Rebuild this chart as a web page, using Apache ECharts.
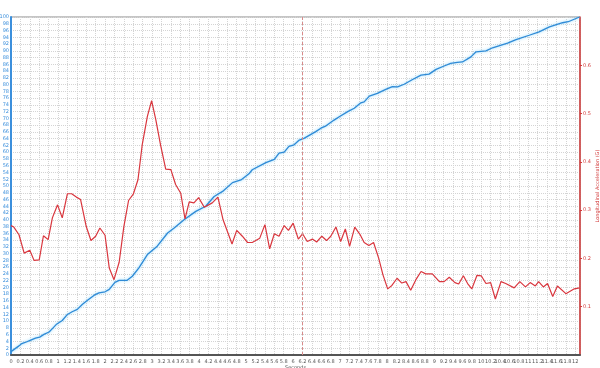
<!DOCTYPE html>
<html><head><meta charset="utf-8">
<script src="https://cdn.jsdelivr.net/npm/echarts@6/dist/echarts.min.js"></script>
<style>html,body{margin:0;padding:0;background:#fff}#c{width:600px;height:368px}</style>
</head><body><div id="c"></div>
<script>
const blueTime = [0,0.17,0.23,0.3,0.42,0.52,0.61,0.70,0.81,0.88,0.96,1.09,1.2,1.3,1.41,1.52,1.62,1.77,1.87,2.0,2.09,2.21,2.3,2.47,2.58,2.72,2.9,3.11,3.33,3.47,3.68,3.93,4.14,4.32,4.5,4.71,4.89,5.06,5.13,5.42,5.6,5.7,5.81,5.91,6.02,6.13,6.23,6.48,6.59,6.7,6.87,6.98,7.16,7.3,7.44,7.51,7.62,7.79,7.97,8.11,8.22,8.36,8.54,8.72,8.89,9.04,9.21,9.35,9.49,9.6,9.78,9.89,10.1,10.24,10.56,10.74,11.02,11.23,11.45,11.73,11.85,12.09];
const blueValues = [1,2.7,3.4,3.7,4.4,5,5.3,6.1,6.8,7.8,9,10.2,12,12.8,13.5,15,16.1,17.7,18.4,18.7,19.4,21.5,22.1,22.1,23.3,25.8,29.7,32.2,36.1,37.6,40,42.5,44,46.9,48.4,51,51.8,53.6,54.8,56.9,57.9,59.7,60,61.7,62.2,63.6,64.1,66.1,67.1,67.8,69.5,70.5,72,73,74.6,74.9,76.6,77.4,78.6,79.4,79.3,80.1,81.5,82.8,83.1,84.5,85.5,86.3,86.6,86.7,88.2,89.7,90,90.9,92.3,93.3,94.6,95.6,97.1,98.3,98.6,100];
const redTime = [0,0.06,0.17,0.28,0.40,0.49,0.60,0.69,0.79,0.88,0.99,1.09,1.2,1.29,1.39,1.48,1.6,1.7,1.8,1.89,2.0,2.09,2.19,2.3,2.4,2.5,2.6,2.7,2.79,2.9,2.99,3.08,3.18,3.29,3.40,3.50,3.61,3.70,3.79,3.89,3.99,4.11,4.28,4.40,4.51,4.70,4.80,4.92,5.03,5.13,5.29,5.40,5.50,5.6,5.70,5.81,5.90,6.0,6.11,6.20,6.30,6.41,6.50,6.61,6.71,6.80,6.91,7.01,7.11,7.2,7.31,7.42,7.51,7.61,7.71,7.82,7.91,8.01,8.10,8.21,8.31,8.40,8.50,8.61,8.72,8.82,8.96,9.11,9.21,9.32,9.44,9.52,9.62,9.71,9.80,9.91,10.0,10.1,10.2,10.3,10.42,10.52,10.70,10.82,10.94,11.04,11.15,11.22,11.32,11.41,11.52,11.62,11.8,11.98,12.09];
const redValues = [0.268,0.265,0.249,0.211,0.217,0.196,0.197,0.247,0.239,0.284,0.311,0.284,0.334,0.334,0.327,0.322,0.266,0.237,0.246,0.263,0.248,0.18,0.156,0.192,0.266,0.32,0.333,0.363,0.435,0.494,0.527,0.487,0.435,0.385,0.384,0.353,0.335,0.282,0.317,0.315,0.326,0.306,0.315,0.327,0.28,0.23,0.258,0.246,0.233,0.233,0.242,0.27,0.22,0.251,0.246,0.268,0.258,0.273,0.24,0.251,0.235,0.24,0.234,0.246,0.237,0.246,0.265,0.235,0.261,0.225,0.265,0.25,0.233,0.227,0.233,0.2,0.166,0.137,0.144,0.159,0.149,0.152,0.134,0.156,0.173,0.168,0.168,0.152,0.152,0.161,0.15,0.147,0.164,0.148,0.137,0.165,0.164,0.148,0.150,0.116,0.152,0.148,0.139,0.152,0.141,0.150,0.143,0.152,0.141,0.148,0.121,0.143,0.127,0.137,0.139];
const markerTime = 6.2;
const xAxisName = 'Seconds';
const rightAxisName = 'Longitudinal Acceleration (G)';

const chart = echarts.init(document.getElementById('c'), null, {renderer:'canvas'});
const gridLine = {show:true, lineStyle:{color:'#d4d4d4', type:[1,1], width:1}};
chart.setOption({
  animation:false,
  backgroundColor:'#ffffff',
  grid:{left:11, right:20, top:17, bottom:13, containLabel:false, outerBoundsMode:'none',
        show:true, borderColor:'#8a8a8a', borderWidth:1},
  xAxis:{type:'value', min:0, max:12.1, interval:0.2,
    name:xAxisName, nameLocation:'middle', nameGap:10, nameMoveOverlap:false,
    nameTextStyle:{fontSize:5, color:'#555', fontFamily:'DejaVu Sans'},
    axisLine:{show:true, onZero:false, lineStyle:{color:'#555', width:2}},
    axisTick:{show:false},
    axisLabel:{fontSize:5, color:'#555', margin:4, fontFamily:'DejaVu Sans', showMaxLabel:false},
    splitLine:gridLine},
  yAxis:[
    {type:'value', min:0, max:100, interval:2, position:'left',
     axisLine:{show:true, lineStyle:{color:'#3b8fdc', width:2}},
     axisTick:{show:false},
     axisLabel:{fontSize:5, color:'#3b8fdc', margin:2, fontFamily:'DejaVu Sans'},
     splitLine:gridLine},
    {type:'value', min:0, max:0.7, interval:0.1, position:'right',
     name:rightAxisName, nameLocation:'middle', nameRotate:90, nameGap:15, nameMoveOverlap:false,
     nameTextStyle:{fontSize:5, color:'#d23a3a', fontFamily:'DejaVu Sans'},
     axisLine:{show:true, lineStyle:{color:'#d23a3a', width:1.5}},
     axisTick:{show:true, length:2, lineStyle:{color:'#d23a3a'}},
     axisLabel:{fontSize:5, color:'#d23a3a', margin:3, fontFamily:'DejaVu Sans', showMinLabel:false, showMaxLabel:false},
     splitLine:{show:false}}
  ],
  series:[
    {type:'line', yAxisIndex:0, showSymbol:false, symbol:'none',
     data: blueTime.map((t,i)=>[t, blueValues[i]]),
     lineStyle:{color:'#2f8ad6', width:1.3, shadowColor:'rgba(120,210,255,0.9)', shadowBlur:3},
     z:3},
    {type:'line', yAxisIndex:1, showSymbol:false, symbol:'none',
     data: redTime.map((t,i)=>[t, redValues[i]]),
     lineStyle:{color:'#d9363e', width:1.2},
     markLine:{silent:true, symbol:'none', label:{show:false},
       lineStyle:{color:'#d98a8a', type:[3,2], width:1},
       data:[{xAxis:markerTime}]},
     z:4}
  ]
});
</script></body></html>
